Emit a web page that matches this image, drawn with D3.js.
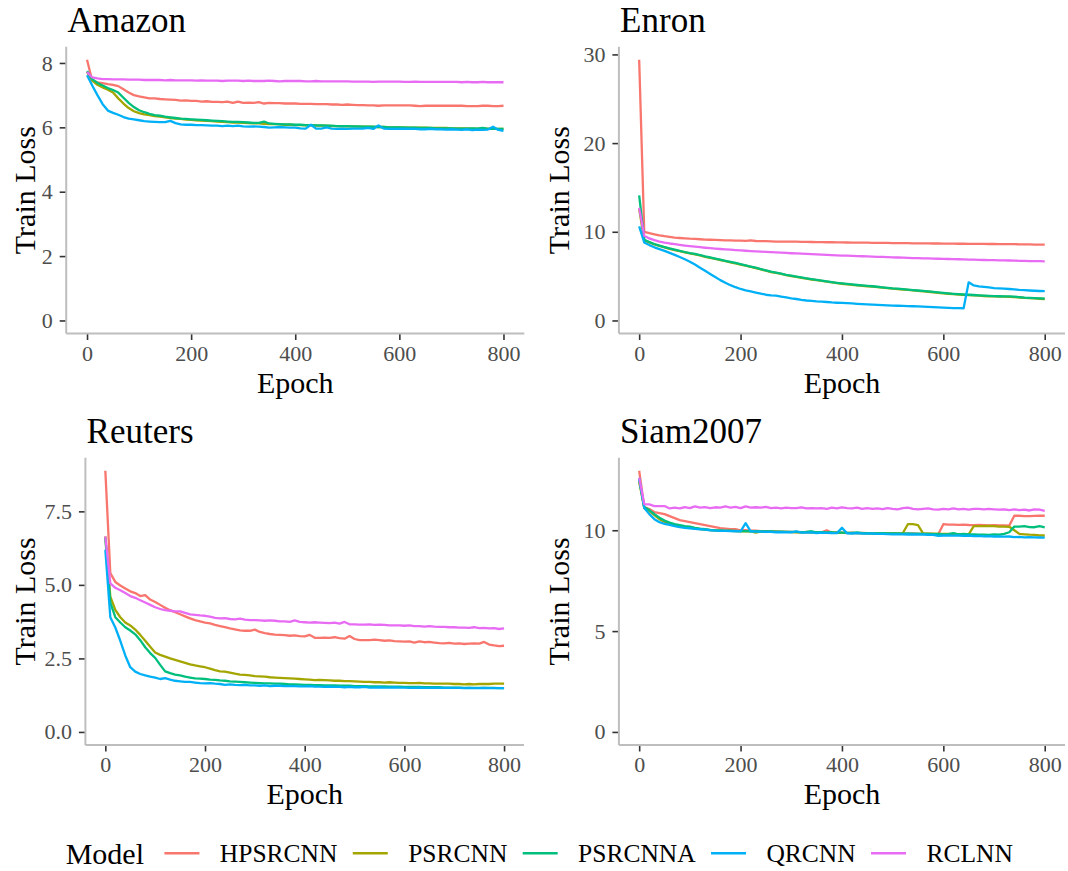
<!DOCTYPE html>
<html>
<head>
<meta charset="utf-8">
<script src="https://cdn.jsdelivr.net/npm/d3@7"></script>
<style>
  html, body { margin: 0; padding: 0; background: #fff; }
  svg { display: block; }
  svg text { font-family: "Liberation Serif", "Times New Roman", serif; }
</style>
</head>
<body>
<svg id="chart" width="1068" height="871" font-family="Liberation Serif, Times New Roman, serif"></svg>
<script>
// ---------------- DATA ----------------
const models = ["HPSRCNN", "PSRCNN", "PSRCNNA", "QRCNN", "RCLNN"];
const modelColors = ["#F8766D", "#A3A500", "#00BF7D", "#00B0F6", "#E76BF3"];
const epochs = d3.range(0, 801, 10);
const xTicks = [0, 200, 400, 600, 800];

const datasets = ["Amazon", "Enron", "Reuters", "Siam2007"];
const amazonYTicks = [0, 2, 4, 6, 8];
const enronYTicks = [0, 10, 20, 30];
const reutersYTicks = [0, 2.5, 5, 7.5];
const siamYTicks = [0, 5, 10];

// Amazon
const amazonHPSRCNN = [8.10,7.45,7.40,7.37,7.34,7.32,7.28,7.18,7.08,7.00,
  6.96,6.93,6.90,6.90,6.88,6.87,6.86,6.85,6.83,6.84,
  6.82,6.82,6.80,6.81,6.79,6.79,6.78,6.80,6.76,6.80,
  6.76,6.77,6.76,6.78,6.74,6.76,6.75,6.75,6.74,6.74,
  6.74,6.73,6.73,6.73,6.72,6.72,6.72,6.71,6.71,6.70,
  6.71,6.70,6.69,6.69,6.68,6.68,6.67,6.68,6.68,6.68,
  6.68,6.68,6.68,6.67,6.66,6.67,6.67,6.67,6.67,6.67,
  6.67,6.67,6.67,6.66,6.66,6.66,6.67,6.67,6.66,6.66,6.67];
const amazonPSRCNN = [7.72,7.45,7.32,7.24,7.17,7.08,6.90,6.74,6.60,6.50,
  6.44,6.40,6.38,6.35,6.33,6.31,6.29,6.27,6.26,6.24,
  6.23,6.22,6.21,6.20,6.19,6.18,6.17,6.16,6.15,6.15,
  6.14,6.13,6.12,6.12,6.11,6.10,6.10,6.09,6.08,6.08,
  6.07,6.07,6.06,6.06,6.05,6.05,6.05,6.04,6.04,6.03,
  6.03,6.03,6.02,6.02,6.02,6.01,6.01,6.01,6.00,6.00,
  6.00,6.00,5.99,5.99,5.99,5.99,5.98,5.98,5.98,5.98,
  5.97,5.97,5.97,5.97,5.96,5.96,5.96,5.96,5.95,5.95,5.95];
const amazonPSRCNNA = [7.75,7.50,7.38,7.30,7.22,7.16,7.08,6.92,6.76,6.63,
  6.53,6.47,6.42,6.38,6.36,6.33,6.31,6.29,6.27,6.26,
  6.25,6.24,6.23,6.22,6.21,6.20,6.19,6.18,6.17,6.17,
  6.16,6.15,6.14,6.14,6.18,6.12,6.11,6.10,6.09,6.09,
  6.08,6.08,6.07,6.07,6.06,6.06,6.05,6.05,6.04,6.04,
  6.04,6.03,6.03,6.02,6.02,6.02,6.01,6.01,6.00,6.00,
  6.00,5.99,5.99,5.99,5.98,5.98,5.98,5.97,5.97,5.97,
  5.97,5.96,5.96,5.96,5.97,5.96,5.98,5.95,5.96,5.95,5.95];
const amazonQRCNN = [7.62,7.30,7.00,6.72,6.52,6.45,6.39,6.32,6.27,6.25,
  6.22,6.19,6.18,6.17,6.16,6.16,6.20,6.13,6.09,6.08,
  6.08,6.07,6.07,6.06,6.05,6.05,6.04,6.05,6.04,6.05,
  6.03,6.02,6.03,6.02,6.01,5.99,6.00,6.01,6.00,5.99,
  5.99,5.97,5.96,6.08,5.96,5.96,6.00,5.96,5.95,5.96,
  5.95,5.96,5.96,5.96,5.98,5.95,6.06,5.96,5.95,5.95,
  5.95,5.96,5.95,5.95,5.94,5.94,5.95,5.94,5.94,5.93,
  5.94,5.93,5.92,5.94,5.91,5.93,5.92,5.93,6.02,5.92,5.89];
const amazonRCLNN = [7.72,7.55,7.52,7.50,7.50,7.49,7.49,7.49,7.48,7.48,
  7.48,7.47,7.47,7.47,7.47,7.46,7.47,7.46,7.46,7.46,
  7.46,7.45,7.46,7.45,7.45,7.45,7.44,7.45,7.45,7.45,
  7.44,7.45,7.44,7.44,7.44,7.45,7.44,7.43,7.44,7.44,
  7.44,7.44,7.43,7.43,7.44,7.43,7.43,7.43,7.43,7.43,
  7.43,7.42,7.42,7.42,7.42,7.41,7.42,7.42,7.42,7.42,
  7.42,7.41,7.41,7.42,7.41,7.41,7.41,7.41,7.41,7.41,
  7.41,7.41,7.40,7.41,7.40,7.40,7.41,7.40,7.40,7.40,7.40];

// Enron
const enronHPSRCNN = [29.4,10.0,9.85,9.72,9.60,9.50,9.42,9.35,9.30,9.26,
  9.22,9.20,9.16,9.12,9.10,9.08,9.06,9.04,9.02,9.00,
  9.00,8.98,9.02,8.96,8.95,8.94,8.92,8.90,8.90,8.89,
  8.88,8.88,8.86,8.86,8.85,8.84,8.83,8.82,8.82,8.80,
  8.80,8.79,8.78,8.78,8.77,8.77,8.76,8.75,8.75,8.74,
  8.73,8.72,8.72,8.71,8.70,8.70,8.69,8.69,8.68,8.68,
  8.67,8.67,8.66,8.65,8.65,8.64,8.64,8.63,8.63,8.62,
  8.62,8.61,8.61,8.60,8.60,8.59,8.59,8.58,8.56,8.56,8.55];
const enronPSRCNN = [12.6,9.05,8.80,8.58,8.41,8.24,8.08,7.94,7.81,7.68,
  7.56,7.46,7.34,7.18,7.06,6.94,6.81,6.68,6.56,6.44,
  6.31,6.18,6.04,5.91,5.76,5.61,5.46,5.36,5.24,5.11,
  5.01,4.91,4.81,4.71,4.62,4.54,4.46,4.38,4.29,4.21,
  4.14,4.08,4.02,3.96,3.91,3.86,3.82,3.76,3.70,3.64,
  3.58,3.54,3.49,3.44,3.39,3.34,3.29,3.24,3.18,3.12,
  3.06,3.01,2.96,2.92,2.89,2.86,2.83,2.80,2.76,2.73,
  2.71,2.69,2.68,2.67,2.64,2.59,2.54,2.51,2.48,2.45,2.42];
const enronPSRCNNA = [14.1,9.10,8.85,8.62,8.45,8.28,8.12,7.98,7.85,7.72,
  7.60,7.50,7.38,7.22,7.10,6.98,6.85,6.72,6.60,6.48,
  6.35,6.22,6.08,5.95,5.80,5.65,5.50,5.40,5.28,5.15,
  5.05,4.95,4.85,4.75,4.66,4.58,4.50,4.42,4.33,4.25,
  4.18,4.12,4.06,4.00,3.95,3.90,3.86,3.80,3.74,3.68,
  3.62,3.58,3.53,3.48,3.43,3.38,3.33,3.28,3.22,3.16,
  3.10,3.05,3.00,2.96,2.93,2.90,2.87,2.84,2.80,2.77,
  2.75,2.73,2.72,2.71,2.68,2.63,2.58,2.55,2.52,2.49,2.46];
const enronQRCNN = [10.6,8.80,8.50,8.25,8.05,7.85,7.62,7.40,7.15,6.90,
  6.62,6.30,5.95,5.60,5.25,4.90,4.55,4.25,3.98,3.75,
  3.55,3.40,3.28,3.15,3.02,2.90,2.82,2.80,2.70,2.60,
  2.50,2.42,2.32,2.25,2.20,2.15,2.12,2.08,2.03,2.00,
  1.98,1.95,1.92,1.88,1.85,1.82,1.78,1.75,1.72,1.70,
  1.68,1.66,1.64,1.62,1.60,1.58,1.56,1.54,1.50,1.47,
  1.44,1.41,1.39,1.38,1.38,4.30,3.95,3.85,3.78,3.72,
  3.65,3.62,3.58,3.55,3.50,3.45,3.42,3.38,3.35,3.32,3.30];
const enronRCLNN = [12.7,9.55,9.25,9.05,8.90,8.78,8.68,8.60,8.52,8.45,
  8.38,8.32,8.26,8.20,8.15,8.10,8.06,8.02,7.98,7.94,
  7.90,7.86,7.82,7.79,7.76,7.73,7.70,7.67,7.64,7.61,
  7.58,7.56,7.53,7.50,7.48,7.45,7.42,7.40,7.37,7.35,
  7.32,7.30,7.28,7.26,7.24,7.22,7.20,7.18,7.16,7.14,
  7.12,7.10,7.08,7.06,7.04,7.03,7.01,7.00,6.98,6.96,
  6.95,6.93,6.92,6.90,6.88,6.87,6.85,6.84,6.82,6.81,
  6.80,6.78,6.77,6.76,6.74,6.73,6.72,6.70,6.69,6.68,6.67];

// Reuters
const reutersHPSRCNN = [8.88,5.40,5.10,4.98,4.88,4.78,4.72,4.62,4.65,4.50,
  4.42,4.32,4.22,4.14,4.07,4.00,3.93,3.86,3.80,3.76,
  3.72,3.69,3.64,3.60,3.56,3.52,3.49,3.45,3.44,3.44,
  3.48,3.40,3.36,3.33,3.31,3.30,3.29,3.27,3.28,3.26,
  3.25,3.30,3.20,3.20,3.21,3.20,3.22,3.19,3.17,3.26,
  3.16,3.12,3.12,3.12,3.14,3.12,3.10,3.11,3.09,3.08,
  3.07,3.08,3.04,3.08,3.05,3.06,3.04,3.02,3.01,3.03,
  3.00,3.01,2.99,3.00,3.01,3.00,3.06,2.97,2.94,2.92,2.93];
const reutersPSRCNN = [6.65,4.60,4.15,3.90,3.72,3.62,3.48,3.30,3.10,2.90,
  2.70,2.62,2.56,2.50,2.45,2.40,2.35,2.30,2.26,2.23,
  2.20,2.15,2.10,2.06,2.05,2.02,1.98,1.95,1.94,1.92,
  1.90,1.89,1.88,1.86,1.85,1.84,1.83,1.82,1.81,1.80,
  1.79,1.78,1.76,1.77,1.76,1.75,1.74,1.74,1.73,1.73,
  1.72,1.71,1.70,1.70,1.69,1.69,1.68,1.69,1.68,1.67,
  1.67,1.66,1.66,1.67,1.65,1.65,1.64,1.64,1.64,1.64,
  1.63,1.63,1.62,1.63,1.62,1.63,1.63,1.63,1.64,1.64,1.64];
const reutersPSRCNNA = [6.60,4.40,3.90,3.72,3.56,3.45,3.32,3.12,2.88,2.68,
  2.52,2.28,2.06,2.00,1.95,1.92,1.88,1.85,1.82,1.81,
  1.80,1.78,1.77,1.75,1.74,1.72,1.71,1.70,1.69,1.68,
  1.67,1.66,1.65,1.65,1.64,1.64,1.63,1.62,1.62,1.61,
  1.60,1.60,1.59,1.59,1.58,1.58,1.58,1.57,1.57,1.57,
  1.56,1.56,1.56,1.55,1.55,1.55,1.55,1.54,1.54,1.54,
  1.53,1.53,1.53,1.53,1.52,1.52,1.52,1.52,1.51,1.51,
  1.51,1.51,1.50,1.50,1.50,1.50,1.50,1.50,1.50,1.49,1.49];
const reutersQRCNN = [6.20,3.90,3.55,3.10,2.60,2.20,2.05,1.97,1.92,1.88,
  1.85,1.80,1.83,1.78,1.74,1.72,1.70,1.70,1.68,1.66,
  1.65,1.66,1.64,1.63,1.60,1.62,1.60,1.59,1.60,1.58,
  1.58,1.57,1.58,1.56,1.57,1.57,1.56,1.56,1.56,1.55,
  1.55,1.56,1.54,1.54,1.53,1.54,1.53,1.53,1.52,1.53,
  1.52,1.52,1.53,1.51,1.51,1.52,1.51,1.51,1.52,1.51,
  1.51,1.50,1.50,1.51,1.50,1.50,1.51,1.50,1.50,1.50,
  1.50,1.50,1.49,1.50,1.49,1.49,1.50,1.49,1.49,1.49,1.49];
const reutersRCLNN = [6.65,5.05,4.90,4.82,4.72,4.62,4.56,4.48,4.40,4.32,
  4.24,4.18,4.14,4.12,4.10,4.10,4.05,4.00,3.98,3.96,
  3.95,3.92,3.88,3.86,3.87,3.84,3.83,3.85,3.82,3.80,
  3.80,3.79,3.78,3.79,3.78,3.76,3.76,3.74,3.79,3.74,
  3.73,3.72,3.73,3.72,3.71,3.70,3.72,3.68,3.74,3.66,
  3.66,3.65,3.65,3.66,3.64,3.65,3.64,3.62,3.62,3.62,
  3.61,3.62,3.60,3.60,3.58,3.60,3.58,3.57,3.57,3.56,
  3.56,3.55,3.55,3.54,3.56,3.53,3.54,3.52,3.53,3.50,3.52];

// Siam2007
const siamHPSRCNN = [12.95,11.15,11.05,10.90,10.85,10.80,10.70,10.60,10.50,10.45,
  10.40,10.35,10.30,10.25,10.20,10.15,10.10,10.08,10.05,10.05,
  10.00,10.00,9.98,9.98,9.96,9.95,9.95,9.94,9.93,9.92,
  9.92,9.91,9.90,9.92,9.90,9.88,9.90,10.00,9.88,9.90,
  9.88,9.86,9.88,9.86,9.87,9.86,9.85,9.86,9.85,9.84,
  9.85,9.84,9.84,9.83,9.84,9.82,9.83,9.82,9.82,9.80,
  10.30,10.28,10.28,10.27,10.28,10.26,10.25,10.26,10.25,10.24,
  10.25,10.24,10.24,10.23,10.72,10.72,10.70,10.70,10.71,10.72,10.72];
const siamPSRCNN = [12.40,11.10,10.95,10.75,10.55,10.42,10.33,10.26,10.20,10.16,
  10.13,10.10,10.06,10.03,10.01,9.99,9.98,9.97,9.97,9.96,
  9.95,9.95,9.94,9.88,9.94,9.93,9.93,9.92,9.92,9.92,
  9.91,9.90,9.91,9.90,9.90,9.89,9.89,9.88,9.88,9.88,
  9.87,9.87,9.86,9.86,9.86,9.85,9.85,9.85,9.84,9.84,
  9.84,9.83,9.85,10.30,10.30,10.25,9.85,9.83,9.83,9.82,
  9.82,9.82,9.81,9.81,9.80,9.80,10.20,10.20,10.20,10.22,
  10.20,10.18,10.18,10.17,10.00,9.82,9.80,9.78,9.77,9.75,9.74];
const siamPSRCNNA = [12.50,11.15,11.00,10.80,10.62,10.48,10.38,10.30,10.25,10.20,
  10.18,10.12,10.08,10.05,10.02,10.00,9.99,9.98,9.98,9.97,
  9.96,9.96,9.95,9.95,9.94,9.94,9.94,9.93,9.93,9.92,
  9.92,9.92,9.91,9.92,9.95,9.90,9.90,9.89,9.90,9.88,
  9.88,9.87,9.87,9.90,9.86,9.86,9.85,9.85,9.86,9.84,
  9.85,9.84,9.83,9.84,9.83,9.83,9.82,9.82,9.81,9.82,
  9.80,9.81,9.86,9.80,9.82,9.79,9.80,9.78,9.78,9.77,
  9.80,9.78,9.82,9.90,10.18,10.18,10.20,10.16,10.15,10.20,10.14];
const siamQRCNN = [12.60,11.10,10.80,10.55,10.40,10.32,10.27,10.20,10.15,10.12,
  10.10,10.07,10.05,10.03,10.00,9.98,9.97,9.97,9.96,9.95,
  9.95,10.35,9.95,9.93,9.93,9.92,9.92,9.90,9.91,9.90,
  9.90,9.95,9.88,9.88,9.90,9.86,9.88,9.87,9.86,9.86,
  10.12,9.85,9.84,9.86,9.83,9.83,9.84,9.82,9.82,9.81,
  9.80,9.80,9.80,9.79,9.80,9.78,9.79,9.77,9.77,9.72,
  9.74,9.75,9.73,9.74,9.72,9.74,9.71,9.72,9.70,9.71,
  9.69,9.70,9.68,9.69,9.66,9.67,9.65,9.66,9.65,9.64,9.63];
const siamRCLNN = [12.60,11.30,11.28,11.20,11.20,11.20,11.08,11.12,11.08,11.15,
  11.10,11.18,11.12,11.15,11.10,11.14,11.12,11.18,11.12,11.16,
  11.10,11.18,11.12,11.14,11.12,11.16,11.10,11.12,11.08,11.12,
  11.10,11.10,11.14,11.08,11.10,11.08,11.10,11.06,11.12,11.08,
  11.14,11.10,11.08,11.12,11.06,11.10,11.06,11.08,11.05,11.10,
  11.06,11.04,11.10,11.12,11.06,11.04,11.06,11.08,11.04,11.02,
  11.06,11.04,11.08,11.04,11.06,11.02,11.06,11.06,11.04,11.06,
  11.04,11.02,11.04,11.00,11.04,11.00,11.02,10.98,11.04,11.02,10.96];

const panelSeries = [
  [amazonHPSRCNN, amazonPSRCNN, amazonPSRCNNA, amazonQRCNN, amazonRCLNN],
  [enronHPSRCNN, enronPSRCNN, enronPSRCNNA, enronQRCNN, enronRCLNN],
  [reutersHPSRCNN, reutersPSRCNN, reutersPSRCNNA, reutersQRCNN, reutersRCLNN],
  [siamHPSRCNN, siamPSRCNN, siamPSRCNNA, siamQRCNN, siamRCLNN]
];
const panelYTicks = [amazonYTicks, enronYTicks, reutersYTicks, siamYTicks];
const panelYFormat = [d3.format("d"), d3.format("d"), d3.format(".1f"), d3.format("d")];

// ---------------- LAYOUT ----------------
const panels = [
  { left: 66.2, right: 524.3, top: 46.7, bottom: 333.5, ox: 0,   oy: 0 },
  { left: 618.9, right: 1065, top: 46.7, bottom: 333.5, ox: 534, oy: 0 },
  { left: 85.4, right: 524.0, top: 457.7, bottom: 745.0, ox: 0,   oy: 411 },
  { left: 618.9, right: 1065, top: 457.7, bottom: 745.0, ox: 534, oy: 411 }
];

const FONT = "Liberation Serif, Times New Roman, serif";
const svg = d3.select("#chart");
const axisGray = "#BEBEBE";
const tickDark = "#333333";
const labelGray = "#4D4D4D";

panels.forEach((p, i) => {
  const series = panelSeries[i];
  const ymax = d3.max(series, s => d3.max(s));
  const ymin = Math.min(0, d3.min(series, s => d3.min(s)));
  const pad = (ymax - ymin) * 0.05;
  const x = d3.scaleLinear().domain([-40, 840]).range([p.left, p.right]);
  const y = d3.scaleLinear().domain([ymin - pad, ymax + pad]).range([p.bottom, p.top]);

  const g = svg.append("g").attr("font-family", FONT);

  // title
  g.append("text")
    .attr("x", p.left + 1.2)
    .attr("y", p.oy + 32)
    .attr("font-size", 35)
    .attr("fill", "#000")
    .text(datasets[i]);

  // lines
  const line = d3.line().x((d, k) => x(epochs[k])).y(d => y(d));
  series.forEach((s, k) => {
    g.append("path")
      .datum(s)
      .attr("d", line)
      .attr("fill", "none")
      .attr("stroke", modelColors[k])
      .attr("stroke-width", 2.3)
      .attr("stroke-linejoin", "round")
      .attr("stroke-linecap", "butt");
  });

  // x axis
  const xAxis = d3.axisBottom(x).tickValues(xTicks).tickSize(6.5).tickPadding(5).tickFormat(d3.format("d"));
  const xg = g.append("g").attr("transform", `translate(0,${p.bottom})`).call(xAxis)
    .attr("font-family", FONT);
  xg.select(".domain").remove();
  xg.selectAll(".tick line").attr("stroke", tickDark).attr("stroke-width", 1.6);
  xg.selectAll(".tick text").attr("font-size", 22).attr("fill", labelGray)
    .attr("font-family", FONT).attr("dy", "0.72em");
  g.append("line").attr("x1", p.left).attr("x2", p.right).attr("y1", p.bottom).attr("y2", p.bottom)
    .attr("stroke", axisGray).attr("stroke-width", 2);

  // y axis
  const yAxis = d3.axisLeft(y).tickValues(panelYTicks[i]).tickSize(6.5).tickPadding(7).tickFormat(panelYFormat[i]);
  const yg = g.append("g").attr("transform", `translate(${p.left},0)`).call(yAxis)
    .attr("font-family", FONT);
  yg.select(".domain").remove();
  yg.selectAll(".tick line").attr("stroke", tickDark).attr("stroke-width", 1.6);
  yg.selectAll(".tick text").attr("font-size", 22).attr("fill", labelGray)
    .attr("font-family", FONT);
  g.append("line").attr("x1", p.left).attr("x2", p.left).attr("y1", p.top).attr("y2", p.bottom)
    .attr("stroke", axisGray).attr("stroke-width", 2);

  // axis titles
  g.append("text")
    .attr("x", (p.left + p.right) / 2)
    .attr("y", p.oy + 392.5)
    .attr("text-anchor", "middle")
    .attr("font-size", 30)
    .text("Epoch");
  g.append("text")
    .attr("transform", `translate(${p.ox + 34.5},${(p.top + p.bottom) / 2}) rotate(-90)`)
    .attr("text-anchor", "middle")
    .attr("font-size", 30)
    .text("Train Loss");
});

// ---------------- LEGEND ----------------
const lg = svg.append("g").attr("font-family", FONT);
const legendY = 853.3;
let cx = 65.7;
const ttl = lg.append("text").attr("x", cx).attr("y", legendY).attr("dy", "0.35em")
  .attr("font-size", 30).text("Model");
cx += ttl.node().getComputedTextLength() + 20.4;
models.forEach((m, k) => {
  lg.append("line").attr("x1", cx).attr("x2", cx + 35).attr("y1", legendY).attr("y2", legendY)
    .attr("stroke", modelColors[k]).attr("stroke-width", 2.6);
  cx += 35 + 20.4;
  const t = lg.append("text").attr("x", cx).attr("y", legendY).attr("dy", "0.35em")
    .attr("font-size", 25.5).text(m);
  cx += t.node().getComputedTextLength() + 15.3;
});
</script>
</body>
</html>
